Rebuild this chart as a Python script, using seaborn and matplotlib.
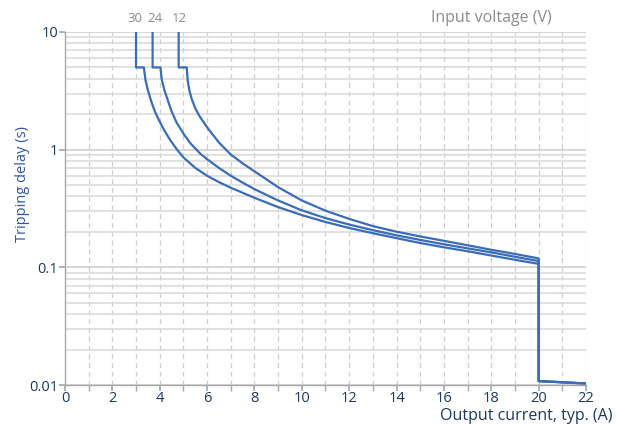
import numpy as np
import pandas as pd
import matplotlib
matplotlib.use("Agg")
import matplotlib.pyplot as plt
import seaborn as sns
from matplotlib.ticker import LogLocator, FixedLocator, MultipleLocator

# Tripping delay curves, one per input voltage
x_30v = [3.0, 3.0, 3.33, 3.4, 3.5, 3.65, 3.8, 4.0, 4.2, 4.45, 4.75, 5.0, 5.5, 6.0, 6.5,
         7.0, 8.0, 9.0, 10.0, 11.0, 12.0, 13.0, 14.0, 15.0, 16.0, 17.0, 18.0, 19.0,
         20.0, 20.0, 22.0]
y_30v = [10, 5.0, 5.0, 3.9, 3.2, 2.55, 2.1, 1.73, 1.45, 1.2, 0.99, 0.86, 0.70, 0.60, 0.53,
         0.475, 0.39, 0.325, 0.278, 0.243, 0.216, 0.195, 0.177, 0.161, 0.148, 0.137, 0.126,
         0.116, 0.107, 0.0108, 0.0103]

x_24v = [3.7, 3.7, 4.03, 4.09, 4.2, 4.35, 4.5, 4.7, 5.0, 5.3, 5.7, 6.0, 6.5, 7.0, 7.5,
         8.0, 9.0, 10.0, 11.0, 12.0, 13.0, 14.0, 15.0, 16.0, 17.0, 18.0, 19.0,
         20.0, 20.0, 22.0]
y_24v = [10, 5.0, 5.0, 3.9, 3.2, 2.6, 2.12, 1.72, 1.37, 1.13, 0.93, 0.83, 0.70, 0.60, 0.525,
         0.462, 0.370, 0.305, 0.262, 0.231, 0.207, 0.187, 0.171, 0.157, 0.145, 0.134, 0.123,
         0.113, 0.0108, 0.0103]

x_12v = [4.8, 4.8, 5.14, 5.18, 5.25, 5.35, 5.5, 5.7, 6.0, 6.5, 7.0, 7.5, 8.0, 9.0,
         10.0, 11.0, 12.0, 13.0, 14.0, 15.0, 16.0, 17.0, 18.0, 19.0, 20.0, 20.0, 22.0]
y_12v = [10, 5.0, 5.0, 3.9, 3.2, 2.7, 2.25, 1.9, 1.55, 1.15, 0.91, 0.765, 0.655, 0.48,
         0.37, 0.303, 0.258, 0.224, 0.201, 0.183, 0.168, 0.154, 0.141, 0.130, 0.119,
         0.0108, 0.0103]

voltages = ["30", "24", "12"]
label_x = [2.95, 3.8, 4.85]

frames = []
for v, xs, ys in zip(voltages, [x_30v, x_24v, x_12v], [y_30v, y_24v, y_12v]):
    frames.append(pd.DataFrame({"current": xs, "delay": ys, "voltage": v}))
df = pd.concat(frames, ignore_index=True)

sns.set_theme(style="white")
plt.rcParams["font.family"] = ["Open Sans", "DejaVu Sans"]

navy = "#1c3a5e"
blue = "#3a6db5"
grey_txt = "#8c8c8c"

fig = plt.figure(figsize=(6.17, 4.26), dpi=100)
ax = fig.add_axes([0.1053, 0.0962, 0.8445, 0.8287])

sns.lineplot(data=df, x="current", y="delay", units="voltage", estimator=None,
             sort=False, color=blue, linewidth=1.6, ax=ax, legend=False)

ax.set_yscale("log")
ax.set_xlim(0, 22)
ax.set_ylim(0.01, 10)

ax.xaxis.set_major_locator(MultipleLocator(2))
ax.xaxis.set_minor_locator(MultipleLocator(1))
ax.yaxis.set_major_locator(FixedLocator([0.01, 0.1, 1, 10]))
ax.yaxis.set_minor_locator(LogLocator(base=10, subs=np.arange(2, 10)))
ax.set_yticklabels(["0.01", "0.1", "1", "10"])

ax.grid(which="both", axis="x", color="#cfcfcf", linestyle=(0, (4, 3)), linewidth=0.9)
ax.grid(which="minor", axis="y", color="#d8d8d8", linestyle="-", linewidth=1.1)
ax.grid(which="major", axis="y", color="#cccccc", linestyle="-", linewidth=1.1)
ax.set_axisbelow(True)

for s in ["top", "right"]:
    ax.spines[s].set_visible(False)
for s in ["left", "bottom"]:
    ax.spines[s].set_color("#a8a8a8")
    ax.spines[s].set_linewidth(1.0)

ax.tick_params(axis="x", which="both", direction="out", length=4, color="#a8a8a8",
               bottom=True, labelsize=10.5, labelcolor=navy, pad=0)
ax.tick_params(axis="x", which="minor", labelbottom=False)
ax.tick_params(axis="y", which="major", direction="out", length=4, color="#a8a8a8",
               left=True, labelsize=10.5, labelcolor=navy, pad=1)
ax.tick_params(axis="y", which="minor", length=0)

ax.set_xlabel("")
ax.set_ylabel("Tripping delay (s)", color="#2f55a8", fontsize=10.5)
ax.yaxis.set_label_coords(-0.068, 0.57)

fig.text(0.992, 0.005, "Output current, typ. (A)", ha="right", va="bottom",
         color=navy, fontsize=11.5)
fig.text(0.797, 0.958, "Input voltage (V)", ha="center", va="center",
         color=grey_txt, fontsize=11.5)
for v, lx in zip(voltages, label_x):
    ax.text(lx, 1.037, v, transform=ax.get_xaxis_transform(), ha="center", va="center",
            color=grey_txt, fontsize=9.5)

fig.savefig("out.png", dpi=100)
